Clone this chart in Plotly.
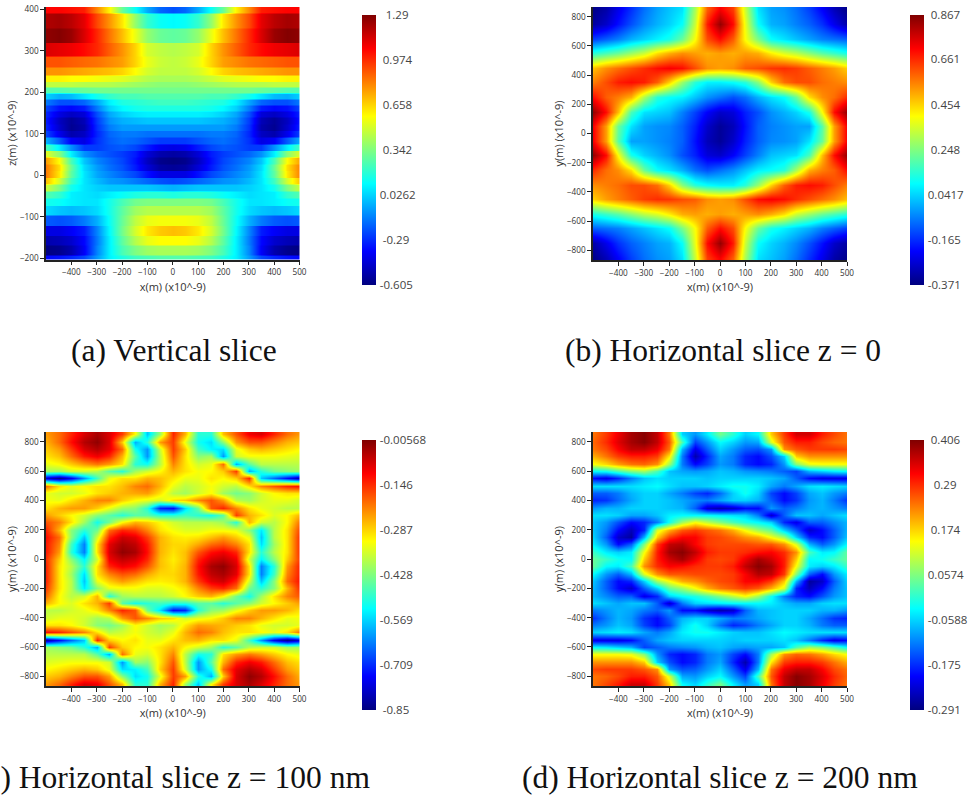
import numpy as np
import plotly.graph_objects as go

# Field values below are in hundredths of the colour-bar unit.
x_grid = [-500,-450,-400,-350,-300,-250,-200,-150,-100,-50,0,50,100,150,200,250,300,350,400,450,500]
y_b = [850,750,650,550,450,350,250,150,50,-50,-150,-250,-350,-450,-550,-650,-750,-850]
y_cd = [850,800,750,700,650,600,550,500,450,400,350,300,250,200,150,100,50,0,-50,-100,-150,-200,-250,-300,-350,-400,-450,-500,-550,-600,-650,-700,-750,-800,-850]
# Upper and lower z edge of each visible layer in the vertical slice
z_bands_a = [(407,391),(391,355),(355,320),(320,288),(288,262),(262,242),(242,226),(226,213),(213,198),(198,184),(184,170),(170,155),(155,140),(140,124),(124,108),(108,92),(92,76),(76,60),(60,44),(44,28),(28,12),(12,-5),(-5,-21),(-21,-38),(-38,-55),(-55,-73),(-73,-95),(-95,-121),(-121,-145),(-145,-168),(-168,-192),(-192,-203)]

z_a = [
[105,105,103,100,80,60,30,12,-5,-18,-22,-18,-5,12,30,60,80,100,103,105,105],
[120,122,118,110,92,78,62,38,20,12,10,12,20,38,62,78,92,110,118,122,120],
[126,128,124,112,98,84,70,54,38,30,28,30,38,54,70,84,98,112,124,128,126],
[112,110,108,104,98,88,78,66,50,46,44,46,50,66,78,88,98,104,108,110,112],
[90,90,88,86,84,80,76,66,54,48,46,48,54,66,76,80,84,86,88,90,90],
[78,78,76,74,72,70,66,58,50,46,46,46,50,58,66,70,72,74,76,78,78],
[60,60,58,58,56,54,52,48,44,42,42,42,44,48,52,54,56,58,58,60,60],
[46,46,46,44,44,44,42,40,38,36,36,36,38,40,42,44,44,44,46,46,46],
[26,26,28,30,32,32,32,32,32,32,32,32,32,32,32,32,32,30,28,26,26],
[2,-4,-2,6,14,20,24,24,26,26,26,26,26,24,24,20,14,6,-2,-4,2],
[-14,-22,-22,-18,-6,8,16,18,20,22,22,22,20,18,16,8,-6,-18,-22,-22,-14],
[-24,-34,-36,-32,-14,2,10,14,16,16,16,16,16,14,10,2,-14,-32,-36,-34,-24],
[-30,-42,-48,-44,-22,-6,2,6,8,8,8,8,8,6,2,-6,-22,-44,-48,-42,-30],
[-32,-48,-56,-50,-26,-10,-4,-2,0,0,0,0,0,-2,-4,-10,-26,-50,-56,-48,-32],
[-30,-46,-57,-52,-28,-14,-8,-8,-8,-8,-8,-8,-8,-8,-8,-14,-28,-52,-57,-46,-30],
[-24,-40,-52,-48,-30,-18,-14,-14,-16,-16,-16,-16,-16,-14,-14,-18,-30,-48,-52,-40,-24],
[-4,-20,-38,-42,-28,-20,-16,-18,-22,-26,-26,-26,-22,-18,-16,-20,-28,-42,-38,-20,-4],
[24,8,-10,-26,-26,-22,-20,-24,-32,-40,-42,-40,-32,-24,-20,-22,-26,-26,-10,8,24],
[52,36,8,-10,-18,-22,-26,-32,-44,-52,-54,-52,-44,-32,-26,-22,-18,-10,8,36,52],
[76,58,24,0,-12,-18,-24,-34,-48,-58,-60,-58,-48,-34,-24,-18,-12,0,24,58,76],
[82,64,30,4,-8,-16,-22,-32,-44,-54,-56,-54,-44,-32,-22,-16,-8,4,30,64,82],
[82,62,28,6,-6,-12,-18,-24,-34,-42,-42,-42,-34,-24,-18,-12,-6,6,28,62,82],
[70,50,22,6,-2,-8,-10,-14,-18,-22,-24,-22,-18,-14,-10,-8,-2,6,22,50,70],
[48,34,14,6,2,0,0,0,0,-2,-4,-2,0,0,0,0,2,6,14,34,48],
[26,20,8,6,4,8,12,16,18,18,16,18,18,16,12,8,4,6,8,20,26],
[14,12,8,6,6,14,24,32,34,34,34,34,34,32,24,14,6,6,8,12,14],
[4,0,-2,0,4,14,28,40,44,44,44,44,44,40,28,14,4,0,-2,0,4],
[-20,-22,-20,-14,-4,12,30,46,54,56,56,56,54,46,30,12,-4,-14,-20,-22,-20],
[-42,-42,-38,-32,-12,10,32,50,62,68,70,68,62,50,32,10,-12,-32,-38,-42,-42],
[-52,-50,-46,-36,-14,8,28,44,54,58,58,58,54,44,28,8,-14,-36,-46,-50,-52],
[-60,-58,-52,-38,-12,8,24,34,40,42,42,42,40,34,24,8,-12,-38,-52,-58,-60],
[-36,-34,-30,-24,-8,8,16,22,24,26,26,26,24,22,16,8,-8,-24,-30,-34,-36],
]

z_b = [
[-36,-32,-24,-16,-8,-2,2,6,30,60,72,64,34,6,-2,-4,-8,-14,-22,-30,-36],
[-33,-28,-20,-12,-5,0,4,10,34,68,84,70,38,10,0,-2,-6,-10,-16,-24,-32],
[-14,-10,-6,0,4,8,12,22,40,62,70,60,40,24,10,6,2,-2,-6,-8,-10],
[14,18,22,28,34,44,50,54,52,50,52,50,52,50,42,36,32,26,20,16,12],
[48,54,58,62,66,70,72,70,62,54,52,54,60,62,65,66,64,60,56,52,46],
[56,62,68,70,68,60,46,28,14,8,8,10,14,26,46,58,62,62,58,56,54],
[70,60,56,50,30,14,10,8,2,-4,-8,-12,-8,0,6,10,22,44,54,58,66],
[84,70,48,18,6,4,2,-6,-14,-22,-28,-26,-18,-12,-4,0,4,12,40,70,84],
[72,52,22,6,-2,-4,-5,-10,-18,-28,-34,-30,-20,-10,-6,-4,-2,-2,20,52,72],
[72,52,20,-2,-2,-4,-6,-10,-20,-30,-34,-28,-18,-10,-5,-4,-2,6,22,52,72],
[84,70,40,12,4,0,-4,-12,-18,-26,-28,-22,-14,-6,2,4,6,18,48,70,84],
[66,58,54,44,22,10,6,0,-8,-12,-8,-4,2,8,10,14,30,50,56,60,70],
[54,56,58,62,62,58,46,26,14,10,8,8,14,28,46,60,68,70,68,62,56],
[46,52,56,60,64,66,65,62,60,54,52,54,62,70,72,70,66,62,58,54,48],
[12,16,20,26,32,36,42,50,52,50,52,50,52,54,50,44,34,28,22,18,14],
[-10,-8,-6,-2,2,6,10,24,40,60,70,62,40,22,12,8,4,0,-6,-10,-14],
[-32,-24,-16,-10,-6,-2,0,10,38,70,84,68,34,10,4,0,-5,-12,-20,-28,-33],
[-36,-30,-22,-14,-8,-4,-2,6,34,64,72,60,30,6,2,-2,-8,-16,-24,-32,-36],
]

z_c = [
[-24,-20,-14,-8,-4,-8,-16,-32,-58,-40,-14,-26,-50,-50,-27,-18,-10,-8,-14,-20,-24],
[-26,-20,-12,-5,-2,-8,-28,-60,-50,-24,-16,-34,-52,-56,-42,-24,-18,-18,-22,-26,-28],
[-28,-24,-16,-8,-5,-9,-20,-52,-62,-36,-16,-28,-48,-54,-56,-34,-28,-26,-28,-30,-32],
[-30,-27,-20,-13,-10,-14,-26,-46,-62,-38,-18,-30,-42,-40,-62,-36,-33,-33,-33,-34,-35],
[-34,-32,-28,-24,-21,-24,-30,-50,-52,-38,-22,-30,-36,-34,-20,-60,-46,-38,-38,-38,-38],
[-40,-40,-36,-36,-38,-46,-50,-40,-36,-32,-26,-30,-33,-32,-28,-16,-60,-50,-44,-42,-40],
[-78,-84,-76,-62,-48,-34,-30,-30,-26,-27,-30,-34,-34,-30,-32,-28,-14,-58,-66,-74,-82],
[-20,-30,-34,-32,-30,-30,-27,-22,-20,-26,-34,-38,-36,-33,-36,-38,-30,-22,-18,-14,-12],
[-34,-36,-36,-34,-30,-28,-26,-25,-24,-30,-38,-40,-36,-32,-40,-44,-42,-36,-32,-30,-30],
[-33,-34,-30,-26,-22,-22,-28,-32,-34,-36,-30,-28,-22,-18,-24,-38,-40,-36,-34,-34,-36],
[-30,-26,-24,-24,-28,-34,-40,-42,-50,-72,-74,-56,-44,-18,-14,-22,-30,-34,-36,-38,-38],
[-24,-28,-32,-36,-42,-46,-50,-46,-46,-50,-50,-48,-50,-52,-46,-16,-26,-30,-35,-32,-26],
[-18,-22,-30,-40,-52,-44,-32,-26,-28,-32,-36,-38,-38,-38,-40,-50,-26,-36,-38,-32,-20],
[-14,-26,-42,-50,-44,-20,-14,-16,-22,-30,-33,-35,-35,-33,-33,-34,-42,-55,-38,-30,-16],
[-12,-20,-42,-58,-36,-14,-7,-9,-16,-26,-30,-31,-30,-27,-24,-28,-34,-58,-38,-30,-14],
[-13,-22,-48,-64,-30,-9,-4,-6,-13,-26,-29,-29,-25,-20,-18,-22,-30,-56,-40,-30,-14],
[-13,-24,-50,-64,-30,-8,-2,-4,-12,-26,-30,-27,-18,-12,-10,-14,-30,-50,-38,-30,-14],
[-15,-28,-42,-54,-36,-10,-6,-8,-14,-27,-31,-27,-14,-8,-6,-10,-36,-54,-42,-28,-15],
[-14,-30,-38,-50,-30,-14,-10,-12,-18,-27,-30,-26,-12,-4,-2,-8,-30,-64,-50,-24,-13],
[-14,-30,-40,-56,-30,-22,-18,-20,-25,-29,-29,-26,-13,-6,-4,-9,-30,-64,-48,-22,-13],
[-14,-30,-38,-58,-34,-28,-24,-27,-30,-31,-30,-26,-16,-9,-7,-14,-36,-58,-42,-20,-12],
[-16,-30,-38,-55,-42,-34,-33,-33,-35,-35,-33,-30,-22,-16,-14,-20,-44,-50,-42,-26,-14],
[-20,-32,-38,-36,-26,-50,-40,-38,-38,-38,-36,-32,-28,-26,-32,-44,-52,-40,-30,-22,-18],
[-26,-32,-35,-30,-26,-16,-46,-52,-50,-48,-50,-50,-46,-46,-50,-46,-42,-36,-32,-28,-24],
[-38,-38,-36,-34,-30,-22,-14,-18,-44,-56,-74,-72,-50,-42,-40,-34,-28,-24,-24,-26,-30],
[-36,-34,-34,-36,-40,-38,-24,-18,-22,-28,-30,-36,-34,-32,-28,-22,-22,-26,-30,-34,-33],
[-30,-30,-32,-36,-42,-44,-40,-32,-36,-40,-38,-30,-24,-25,-26,-28,-30,-34,-36,-36,-34],
[-12,-14,-18,-22,-30,-38,-36,-33,-36,-38,-34,-26,-20,-22,-27,-30,-30,-32,-34,-30,-20],
[-82,-74,-66,-58,-14,-28,-32,-30,-34,-34,-30,-27,-26,-30,-30,-34,-48,-62,-76,-84,-78],
[-40,-42,-44,-50,-60,-16,-28,-32,-33,-30,-26,-32,-36,-40,-50,-46,-38,-36,-36,-40,-40],
[-38,-38,-38,-38,-46,-60,-20,-34,-36,-30,-22,-38,-52,-50,-30,-24,-21,-24,-28,-32,-34],
[-35,-34,-33,-33,-33,-36,-62,-40,-42,-30,-18,-38,-62,-46,-26,-14,-10,-13,-20,-27,-30],
[-32,-30,-28,-26,-28,-34,-56,-54,-48,-28,-16,-36,-62,-52,-20,-9,-5,-8,-16,-24,-28],
[-28,-26,-22,-18,-18,-24,-42,-56,-52,-34,-16,-24,-50,-60,-28,-8,-2,-5,-12,-20,-26],
[-24,-20,-14,-8,-10,-18,-27,-50,-50,-26,-14,-40,-58,-32,-16,-8,-4,-8,-14,-20,-24],
]

z_d = [
[24,28,33,38,40,36,24,-6,-10,-4,5,0,-6,-3,18,28,35,35,30,27,24],
[25,29,34,38,40,36,26,2,-16,-10,-3,-6,-10,-9,12,26,30,30,27,25,24],
[24,27,32,36,36,33,24,-8,-22,-14,-6,-10,-14,-15,-10,22,26,28,28,28,27],
[20,24,28,30,30,28,16,-12,-26,-18,-9,-12,-18,-20,-15,-6,18,22,22,22,22],
[14,17,21,24,25,22,8,-12,-20,-16,-10,-12,-18,-20,-18,-10,6,13,14,14,14],
[-3,-2,2,6,8,2,-7,-9,-10,-9,-7,-8,-10,-11,-12,-14,-16,-8,-6,-4,-3],
[-20,-22,-18,-12,-7,-5,-6,-6,-6,-7,-6,-6,-6,-6,-7,-9,-14,-20,-22,-22,-22],
[-5,-5,-5,-5,-4,-3,-5,-7,-7,-6,-4,-2,-2,-4,-9,-12,-9,-5,-4,-5,-6],
[-14,-14,-12,-8,-6,-6,-9,-12,-16,-18,-13,-6,-2,-6,-16,-20,-16,-9,-7,-10,-12],
[-18,-17,-13,-9,-6,-6,-7,-9,-11,-12,-9,-6,-6,-8,-14,-20,-17,-10,-8,-12,-17],
[-10,-8,-8,-6,-6,-6,-7,-8,-14,-24,-26,-24,-20,-20,-10,-14,-12,-9,-8,-10,-12],
[-5,-5,-6,-9,-9,-7,-4,-3,-3,-3,-4,-5,-6,-12,-24,-14,-7,-7,-9,-7,-5],
[-7,-10,-15,-20,-18,-12,-2,8,14,10,6,2,-1,-3,-6,-18,-22,-14,-14,-11,-8],
[-7,-12,-20,-25,-18,12,20,26,28,26,24,20,14,8,4,-6,-14,-24,-20,-14,-8],
[-6,-14,-24,-27,-8,18,28,32,32,28,27,25,22,20,14,8,-6,-18,-20,-14,-7],
[-4,-10,-20,-14,6,28,36,37,32,28,27,27,27,26,26,22,12,-8,-14,-10,-3],
[1,-4,-6,-4,14,30,38,40,36,30,28,28,29,31,32,29,22,2,-4,-3,4],
[4,1,-2,-3,18,30,35,38,33,28,27,28,33,38,35,30,18,-3,-2,1,4],
[4,-3,-4,2,22,29,32,31,29,28,28,30,36,40,38,30,14,-4,-6,-4,1],
[-3,-10,-14,-8,12,22,26,26,27,27,27,28,32,37,36,28,6,-14,-20,-10,-4],
[-7,-14,-20,-18,-6,8,14,20,22,25,27,28,32,32,28,18,-8,-27,-24,-14,-6],
[-8,-14,-20,-24,-14,-6,4,8,14,20,24,26,28,26,20,12,-18,-25,-20,-12,-7],
[-8,-11,-14,-14,-22,-18,-6,-3,-1,2,6,10,14,8,-2,-12,-18,-20,-15,-10,-7],
[-5,-7,-9,-7,-7,-14,-24,-12,-6,-5,-4,-3,-3,-3,-4,-7,-9,-9,-6,-5,-5],
[-12,-10,-8,-9,-12,-14,-10,-20,-20,-24,-26,-24,-14,-8,-7,-6,-6,-6,-8,-8,-10],
[-17,-12,-8,-10,-17,-20,-14,-8,-6,-6,-9,-12,-11,-9,-7,-6,-6,-9,-13,-17,-18],
[-12,-10,-7,-9,-16,-20,-16,-6,-2,-6,-13,-18,-16,-12,-9,-6,-6,-8,-12,-14,-14],
[-6,-5,-4,-5,-9,-12,-9,-4,-2,-2,-4,-6,-7,-7,-5,-3,-4,-5,-5,-5,-5],
[-22,-22,-22,-20,-14,-9,-7,-6,-6,-6,-6,-7,-6,-6,-6,-5,-7,-12,-18,-22,-20],
[-3,-4,-6,-8,-16,-14,-12,-11,-10,-8,-7,-9,-10,-9,-9,-7,2,8,6,2,-3],
[14,14,14,13,6,-10,-18,-20,-18,-12,-10,-16,-20,-12,8,22,25,24,21,17,14],
[22,22,22,22,18,-6,-15,-20,-18,-12,-9,-18,-26,-12,16,28,30,30,28,24,20],
[27,28,28,28,26,22,-10,-15,-14,-10,-6,-14,-22,-8,24,33,36,36,32,27,24],
[24,25,27,30,30,26,12,-9,-10,-6,-3,-10,-16,2,26,36,40,38,34,29,25],
[24,27,30,35,35,28,18,-3,-6,0,5,-4,-10,-6,24,36,40,38,33,28,24],
]

cbar_vals_a = [1.29,0.974,0.658,0.342,0.0262,-0.29,-0.605]
cbar_vals_b = [0.867,0.661,0.454,0.248,0.0417,-0.165,-0.371]
cbar_vals_c = [-0.00568,-0.146,-0.287,-0.428,-0.569,-0.709,-0.85]
cbar_vals_d = [0.406,0.29,0.174,0.0574,-0.0588,-0.175,-0.291]
x_ticks = [-400,-300,-200,-100,0,100,200,300,400,500]
y_ticks_a = [-200,-100,0,100,200,300,400]
y_ticks_xy = [-800,-600,-400,-200,0,200,400,600,800]
captions = ["(a) Vertical slice","(b) Horizontal slice z = 0","(c) Horizontal slice z = 100 nm","(d) Horizontal slice z = 200 nm"]
x_title = "x(m) (x10^-9)"
y_titles = ["z(m) (x10^-9)","y(m) (x10^-9)","y(m) (x10^-9)","y(m) (x10^-9)"]

W, H = 969, 796
jet = [[0,"#00007f"],[0.125,"#0000ff"],[0.375,"#00ffff"],[0.625,"#ffff00"],[0.875,"#ff0000"],[1,"#7f0000"]]
FONT = "Open Sans, sans-serif"

# y of the layer rows in panel (a): each layer keeps a flat colour, with a short blend to the next
y_a = [v for hi, lo in z_bands_a for v in (hi - 2, lo + 2)]
z_a_rows = [row for row in z_a for _ in (0, 1)]

panels = [
    dict(z=z_a_rows, y=y_a, vals=cbar_vals_a, yt=y_ticks_a, yr=[-203,406], box=(46,299.5,7,259.5), cb=(362,14.5,269.5)),
    dict(z=z_b, y=y_b, vals=cbar_vals_b, yt=y_ticks_xy, yr=[-866,866], box=(593,847,7,260), cb=(910,14.5,269.5)),
    dict(z=z_c, y=y_cd, vals=cbar_vals_c, yt=y_ticks_xy, yr=[-866,866], box=(46,299.5,432,686), cb=(362,440,270)),
    dict(z=z_d, y=y_cd, vals=cbar_vals_d, yt=y_ticks_xy, yr=[-866,866], box=(593,847,432,686), cb=(910,440,270)),
]

fig = go.Figure()
layout = {}
for i, p in enumerate(panels):
    s = "" if i == 0 else str(i + 1)
    x0, x1, y0, y1 = p["box"]
    cx, cy, cl = p["cb"]
    labels = ["\u00a0" * max(0, 6 - len(str(v))) + str(v) for v in p["vals"]]
    fig.add_trace(go.Heatmap(
        x=x_grid, y=p["y"], z=np.array(p["z"]) * 0.01,
        zmin=min(p["vals"]), zmax=max(p["vals"]), colorscale=jet, zsmooth="best",
        xaxis="x" + s, yaxis="y" + s,
        colorbar=dict(x=cx / W, xanchor="left", xpad=0, ypad=0, y=1 - cy / H, yanchor="top",
                      len=cl, lenmode="pixels", thickness=14, thicknessmode="pixels",
                      outlinewidth=0, tickmode="array", tickvals=p["vals"], ticktext=labels,
                      ticks="outside", ticklen=2, tickcolor="rgba(0,0,0,0)",
                      tickfont=dict(family=FONT, size=11.5, color="#444"))))
    layout["xaxis" + s] = dict(domain=[x0 / W, x1 / W], range=[-500, 500], anchor="y" + s,
        tickmode="array", tickvals=x_ticks, ticks="outside", ticklen=4, tickwidth=1, tickcolor="#222",
        showline=True, linecolor="#222", linewidth=1.5, showgrid=False, zeroline=False,
        tickfont=dict(family=FONT, size=8.2, color="#333"),
        title=dict(text=x_title, standoff=7, font=dict(family=FONT, size=11, color="#333")))
    layout["yaxis" + s] = dict(domain=[1 - y1 / H, 1 - y0 / H], range=p["yr"], anchor="x" + s,
        tickmode="array", tickvals=p["yt"], ticks="outside", ticklen=4, tickwidth=1, tickcolor="#222",
        showline=True, linecolor="#222", linewidth=1.5, showgrid=False, zeroline=False,
        tickfont=dict(family=FONT, size=8.2, color="#333"),
        title=dict(text=y_titles[i], standoff=1, font=dict(family=FONT, size=11, color="#333")))

anchors = [(173.5,351,"center"),(723,351,"center"),(372,777,"right"),(720,777,"center")]
annotations = [dict(text=t, xref="paper", yref="paper", x=a[0] / W, y=1 - a[1] / H, xanchor=a[2], yanchor="middle",
                    showarrow=False, font=dict(family="Liberation Serif, serif", size=31.5, color="#111"))
               for t, a in zip(captions, anchors)]

fig.update_layout(width=W, height=H, margin=dict(l=0, r=0, t=0, b=0, autoexpand=False), paper_bgcolor="white",
                  plot_bgcolor="white", annotations=annotations, **layout)
fig.write_html("out.html", config={"displayModeBar": False},
               post_script="document.body.style.margin='0';document.documentElement.style.overflow='hidden';")
